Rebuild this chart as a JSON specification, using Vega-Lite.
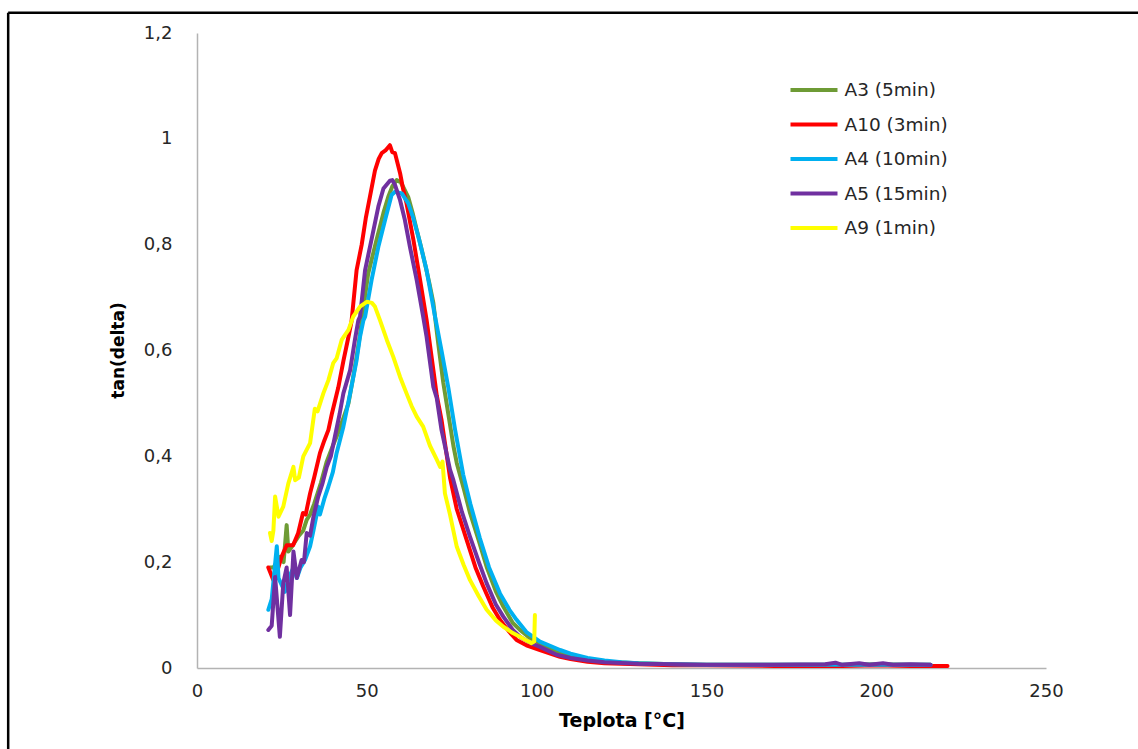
{
  "$schema": "https://vega.github.io/schema/vega-lite/v6.json",
  "autosize": {"type": "none"},
  "width": 849,
  "height": 635,
  "padding": {"left": 197, "top": 33, "right": 92, "bottom": 81},
  "background": "white",
  "config": {
    "view": {"stroke": null},
    "axis": {"grid": false, "ticks": false, "tickSize": 0, "labelFlush": false, "labelOverlap": false, "domainColor": "#B3B3B3", "domainWidth": 1.5, "labelFont": "DejaVu Sans", "labelFontSize": 18, "labelColor": "#262626", "titleFont": "DejaVu Sans", "titleFontSize": 17, "titleFontWeight": "bold", "titleColor": "#000000"},
    "legend": {"labelFont": "DejaVu Sans", "labelFontSize": 18.5, "labelColor": "#262626"}
  },
  "datasets": {
    "curves": [
      {"s":"A3 (5min)","x":21.5,"y":0.19},{"s":"A3 (5min)","x":22.5,"y":0.19},{"s":"A3 (5min)","x":23.5,"y":0.2},{"s":"A3 (5min)","x":24.5,"y":0.21},{"s":"A3 (5min)","x":25.5,"y":0.2},{"s":"A3 (5min)","x":26.4,"y":0.27},{"s":"A3 (5min)","x":26.9,"y":0.22},{"s":"A3 (5min)","x":28,"y":0.23},{"s":"A3 (5min)","x":29,"y":0.24},{"s":"A3 (5min)","x":30,"y":0.25},{"s":"A3 (5min)","x":31.3,"y":0.26},{"s":"A3 (5min)","x":32.3,"y":0.28},{"s":"A3 (5min)","x":33.3,"y":0.29},{"s":"A3 (5min)","x":34.5,"y":0.31},{"s":"A3 (5min)","x":35.5,"y":0.33},{"s":"A3 (5min)","x":36.5,"y":0.35},{"s":"A3 (5min)","x":38.2,"y":0.39},{"s":"A3 (5min)","x":40,"y":0.42},{"s":"A3 (5min)","x":41.6,"y":0.445},{"s":"A3 (5min)","x":43,"y":0.47},{"s":"A3 (5min)","x":44.6,"y":0.5},{"s":"A3 (5min)","x":46,"y":0.55},{"s":"A3 (5min)","x":47,"y":0.588},{"s":"A3 (5min)","x":48,"y":0.63},{"s":"A3 (5min)","x":49,"y":0.68},{"s":"A3 (5min)","x":50.4,"y":0.745},{"s":"A3 (5min)","x":52.9,"y":0.81},{"s":"A3 (5min)","x":54.9,"y":0.86},{"s":"A3 (5min)","x":56.3,"y":0.89},{"s":"A3 (5min)","x":57.5,"y":0.91},{"s":"A3 (5min)","x":58.8,"y":0.922},{"s":"A3 (5min)","x":60,"y":0.918},{"s":"A3 (5min)","x":60.8,"y":0.908},{"s":"A3 (5min)","x":62.2,"y":0.89},{"s":"A3 (5min)","x":63.5,"y":0.86},{"s":"A3 (5min)","x":64.7,"y":0.828},{"s":"A3 (5min)","x":66,"y":0.795},{"s":"A3 (5min)","x":67.1,"y":0.765},{"s":"A3 (5min)","x":68.5,"y":0.725},{"s":"A3 (5min)","x":69.6,"y":0.69},{"s":"A3 (5min)","x":71,"y":0.615},{"s":"A3 (5min)","x":72.5,"y":0.54},{"s":"A3 (5min)","x":73.5,"y":0.5},{"s":"A3 (5min)","x":75.5,"y":0.42},{"s":"A3 (5min)","x":76.5,"y":0.387},{"s":"A3 (5min)","x":78.5,"y":0.34},{"s":"A3 (5min)","x":80.4,"y":0.293},{"s":"A3 (5min)","x":83,"y":0.24},{"s":"A3 (5min)","x":85.3,"y":0.191},{"s":"A3 (5min)","x":88,"y":0.145},{"s":"A3 (5min)","x":90.2,"y":0.116},{"s":"A3 (5min)","x":93,"y":0.085},{"s":"A3 (5min)","x":95.1,"y":0.072},{"s":"A3 (5min)","x":98,"y":0.057},{"s":"A3 (5min)","x":101,"y":0.047},{"s":"A3 (5min)","x":105.9,"y":0.031},{"s":"A3 (5min)","x":110,"y":0.022},{"s":"A3 (5min)","x":115,"y":0.016},{"s":"A3 (5min)","x":120,"y":0.012},{"s":"A3 (5min)","x":130,"y":0.009},{"s":"A3 (5min)","x":140,"y":0.007},{"s":"A3 (5min)","x":150,"y":0.006},{"s":"A3 (5min)","x":170,"y":0.006},{"s":"A3 (5min)","x":190,"y":0.006},{"s":"A3 (5min)","x":200,"y":0.007},{"s":"A3 (5min)","x":210,"y":0.006},{"s":"A3 (5min)","x":216,"y":0.006},

      {"s":"A10 (3min)","x":21,"y":0.19},{"s":"A10 (3min)","x":22.5,"y":0.166},{"s":"A10 (3min)","x":23.5,"y":0.18},{"s":"A10 (3min)","x":24.9,"y":0.21},{"s":"A10 (3min)","x":26.4,"y":0.232},{"s":"A10 (3min)","x":28.3,"y":0.232},{"s":"A10 (3min)","x":29.8,"y":0.255},{"s":"A10 (3min)","x":31.2,"y":0.293},{"s":"A10 (3min)","x":32,"y":0.29},{"s":"A10 (3min)","x":33.3,"y":0.33},{"s":"A10 (3min)","x":34.5,"y":0.36},{"s":"A10 (3min)","x":36.2,"y":0.406},{"s":"A10 (3min)","x":37.5,"y":0.43},{"s":"A10 (3min)","x":38.7,"y":0.45},{"s":"A10 (3min)","x":39.7,"y":0.48},{"s":"A10 (3min)","x":41.6,"y":0.53},{"s":"A10 (3min)","x":43.1,"y":0.58},{"s":"A10 (3min)","x":44.6,"y":0.626},{"s":"A10 (3min)","x":45.5,"y":0.655},{"s":"A10 (3min)","x":47,"y":0.752},{"s":"A10 (3min)","x":48.5,"y":0.8},{"s":"A10 (3min)","x":49.7,"y":0.85},{"s":"A10 (3min)","x":50.9,"y":0.89},{"s":"A10 (3min)","x":52.4,"y":0.94},{"s":"A10 (3min)","x":53.5,"y":0.962},{"s":"A10 (3min)","x":54.4,"y":0.973},{"s":"A10 (3min)","x":55.5,"y":0.978},{"s":"A10 (3min)","x":56.8,"y":0.988},{"s":"A10 (3min)","x":57.5,"y":0.975},{"s":"A10 (3min)","x":58.3,"y":0.973},{"s":"A10 (3min)","x":59.8,"y":0.935},{"s":"A10 (3min)","x":60.7,"y":0.905},{"s":"A10 (3min)","x":61.7,"y":0.878},{"s":"A10 (3min)","x":63.7,"y":0.81},{"s":"A10 (3min)","x":65.7,"y":0.733},{"s":"A10 (3min)","x":67.6,"y":0.658},{"s":"A10 (3min)","x":69.6,"y":0.563},{"s":"A10 (3min)","x":70.6,"y":0.515},{"s":"A10 (3min)","x":72,"y":0.469},{"s":"A10 (3min)","x":74.5,"y":0.36},{"s":"A10 (3min)","x":76.5,"y":0.3},{"s":"A10 (3min)","x":79.4,"y":0.242},{"s":"A10 (3min)","x":82,"y":0.19},{"s":"A10 (3min)","x":84.3,"y":0.154},{"s":"A10 (3min)","x":87,"y":0.115},{"s":"A10 (3min)","x":89.2,"y":0.091},{"s":"A10 (3min)","x":92,"y":0.068},{"s":"A10 (3min)","x":94.1,"y":0.053},{"s":"A10 (3min)","x":97,"y":0.043},{"s":"A10 (3min)","x":101,"y":0.034},{"s":"A10 (3min)","x":106.9,"y":0.021},{"s":"A10 (3min)","x":110,"y":0.017},{"s":"A10 (3min)","x":115,"y":0.012},{"s":"A10 (3min)","x":120,"y":0.009},{"s":"A10 (3min)","x":130,"y":0.007},{"s":"A10 (3min)","x":140,"y":0.005},{"s":"A10 (3min)","x":150,"y":0.005},{"s":"A10 (3min)","x":170,"y":0.004},{"s":"A10 (3min)","x":190,"y":0.004},{"s":"A10 (3min)","x":200,"y":0.005},{"s":"A10 (3min)","x":210,"y":0.004},{"s":"A10 (3min)","x":221,"y":0.004},

      {"s":"A4 (10min)","x":21,"y":0.11},{"s":"A4 (10min)","x":22,"y":0.13},{"s":"A4 (10min)","x":23.5,"y":0.23},{"s":"A4 (10min)","x":24,"y":0.17},{"s":"A4 (10min)","x":25.9,"y":0.144},{"s":"A4 (10min)","x":27,"y":0.17},{"s":"A4 (10min)","x":28.4,"y":0.19},{"s":"A4 (10min)","x":29.4,"y":0.17},{"s":"A4 (10min)","x":30.5,"y":0.19},{"s":"A4 (10min)","x":31.8,"y":0.204},{"s":"A4 (10min)","x":33.3,"y":0.23},{"s":"A4 (10min)","x":34.3,"y":0.26},{"s":"A4 (10min)","x":35.7,"y":0.305},{"s":"A4 (10min)","x":36.2,"y":0.29},{"s":"A4 (10min)","x":37.5,"y":0.32},{"s":"A4 (10min)","x":38.7,"y":0.343},{"s":"A4 (10min)","x":40,"y":0.37},{"s":"A4 (10min)","x":41.1,"y":0.406},{"s":"A4 (10min)","x":43.1,"y":0.456},{"s":"A4 (10min)","x":45.1,"y":0.519},{"s":"A4 (10min)","x":47,"y":0.582},{"s":"A4 (10min)","x":48,"y":0.626},{"s":"A4 (10min)","x":49,"y":0.657},{"s":"A4 (10min)","x":49.5,"y":0.664},{"s":"A4 (10min)","x":51.4,"y":0.733},{"s":"A4 (10min)","x":53.4,"y":0.796},{"s":"A4 (10min)","x":55.4,"y":0.847},{"s":"A4 (10min)","x":57.3,"y":0.894},{"s":"A4 (10min)","x":58.3,"y":0.9},{"s":"A4 (10min)","x":60.3,"y":0.897},{"s":"A4 (10min)","x":62.2,"y":0.878},{"s":"A4 (10min)","x":63.7,"y":0.85},{"s":"A4 (10min)","x":65.2,"y":0.815},{"s":"A4 (10min)","x":67.6,"y":0.752},{"s":"A4 (10min)","x":70.1,"y":0.664},{"s":"A4 (10min)","x":72,"y":0.6},{"s":"A4 (10min)","x":74,"y":0.53},{"s":"A4 (10min)","x":76,"y":0.45},{"s":"A4 (10min)","x":78.4,"y":0.365},{"s":"A4 (10min)","x":80.5,"y":0.31},{"s":"A4 (10min)","x":83.3,"y":0.245},{"s":"A4 (10min)","x":86,"y":0.19},{"s":"A4 (10min)","x":89.2,"y":0.141},{"s":"A4 (10min)","x":92,"y":0.11},{"s":"A4 (10min)","x":94.1,"y":0.091},{"s":"A4 (10min)","x":97,"y":0.068},{"s":"A4 (10min)","x":101,"y":0.05},{"s":"A4 (10min)","x":106.9,"y":0.034},{"s":"A4 (10min)","x":110,"y":0.027},{"s":"A4 (10min)","x":115,"y":0.019},{"s":"A4 (10min)","x":120,"y":0.014},{"s":"A4 (10min)","x":125,"y":0.011},{"s":"A4 (10min)","x":130,"y":0.009},{"s":"A4 (10min)","x":140,"y":0.007},{"s":"A4 (10min)","x":150,"y":0.006},{"s":"A4 (10min)","x":170,"y":0.006},{"s":"A4 (10min)","x":190,"y":0.006},{"s":"A4 (10min)","x":205,"y":0.006},{"s":"A4 (10min)","x":216,"y":0.006},

      {"s":"A5 (15min)","x":21,"y":0.072},{"s":"A5 (15min)","x":22,"y":0.08},{"s":"A5 (15min)","x":23,"y":0.172},{"s":"A5 (15min)","x":24.4,"y":0.059},{"s":"A5 (15min)","x":25.4,"y":0.16},{"s":"A5 (15min)","x":26.4,"y":0.19},{"s":"A5 (15min)","x":27.4,"y":0.1},{"s":"A5 (15min)","x":28.4,"y":0.22},{"s":"A5 (15min)","x":29.4,"y":0.17},{"s":"A5 (15min)","x":30.8,"y":0.204},{"s":"A5 (15min)","x":31.5,"y":0.2},{"s":"A5 (15min)","x":32.3,"y":0.255},{"s":"A5 (15min)","x":33.3,"y":0.25},{"s":"A5 (15min)","x":34.3,"y":0.286},{"s":"A5 (15min)","x":35.7,"y":0.324},{"s":"A5 (15min)","x":37,"y":0.35},{"s":"A5 (15min)","x":38.2,"y":0.38},{"s":"A5 (15min)","x":39.4,"y":0.4},{"s":"A5 (15min)","x":40.6,"y":0.437},{"s":"A5 (15min)","x":42,"y":0.48},{"s":"A5 (15min)","x":43.1,"y":0.519},{"s":"A5 (15min)","x":45.1,"y":0.563},{"s":"A5 (15min)","x":46.5,"y":0.62},{"s":"A5 (15min)","x":47.5,"y":0.657},{"s":"A5 (15min)","x":48,"y":0.664},{"s":"A5 (15min)","x":49.5,"y":0.752},{"s":"A5 (15min)","x":51.4,"y":0.81},{"s":"A5 (15min)","x":53.4,"y":0.872},{"s":"A5 (15min)","x":54.9,"y":0.906},{"s":"A5 (15min)","x":56.8,"y":0.921},{"s":"A5 (15min)","x":57.5,"y":0.922},{"s":"A5 (15min)","x":58.3,"y":0.913},{"s":"A5 (15min)","x":59.8,"y":0.884},{"s":"A5 (15min)","x":61.2,"y":0.847},{"s":"A5 (15min)","x":62.7,"y":0.796},{"s":"A5 (15min)","x":64.7,"y":0.733},{"s":"A5 (15min)","x":66.6,"y":0.664},{"s":"A5 (15min)","x":67.6,"y":0.626},{"s":"A5 (15min)","x":69.6,"y":0.531},{"s":"A5 (15min)","x":70.6,"y":0.51},{"s":"A5 (15min)","x":72,"y":0.45},{"s":"A5 (15min)","x":74.5,"y":0.375},{"s":"A5 (15min)","x":75.5,"y":0.355},{"s":"A5 (15min)","x":78,"y":0.295},{"s":"A5 (15min)","x":80.4,"y":0.248},{"s":"A5 (15min)","x":83,"y":0.2},{"s":"A5 (15min)","x":85.3,"y":0.16},{"s":"A5 (15min)","x":88,"y":0.12},{"s":"A5 (15min)","x":90.2,"y":0.097},{"s":"A5 (15min)","x":93,"y":0.072},{"s":"A5 (15min)","x":95.1,"y":0.059},{"s":"A5 (15min)","x":98,"y":0.048},{"s":"A5 (15min)","x":101,"y":0.04},{"s":"A5 (15min)","x":105.9,"y":0.025},{"s":"A5 (15min)","x":110,"y":0.019},{"s":"A5 (15min)","x":115,"y":0.014},{"s":"A5 (15min)","x":120,"y":0.011},{"s":"A5 (15min)","x":130,"y":0.008},{"s":"A5 (15min)","x":140,"y":0.007},{"s":"A5 (15min)","x":150,"y":0.006},{"s":"A5 (15min)","x":170,"y":0.006},{"s":"A5 (15min)","x":185,"y":0.007},{"s":"A5 (15min)","x":188,"y":0.01},{"s":"A5 (15min)","x":190,"y":0.006},{"s":"A5 (15min)","x":195,"y":0.009},{"s":"A5 (15min)","x":198,"y":0.006},{"s":"A5 (15min)","x":202,"y":0.009},{"s":"A5 (15min)","x":205,"y":0.006},{"s":"A5 (15min)","x":210,"y":0.007},{"s":"A5 (15min)","x":216,"y":0.006},

      {"s":"A9 (1min)","x":21.5,"y":0.255},{"s":"A9 (1min)","x":22,"y":0.24},{"s":"A9 (1min)","x":22.5,"y":0.26},{"s":"A9 (1min)","x":23,"y":0.324},{"s":"A9 (1min)","x":23.5,"y":0.305},{"s":"A9 (1min)","x":24,"y":0.286},{"s":"A9 (1min)","x":25.4,"y":0.305},{"s":"A9 (1min)","x":26.9,"y":0.349},{"s":"A9 (1min)","x":28.4,"y":0.38},{"s":"A9 (1min)","x":28.9,"y":0.355},{"s":"A9 (1min)","x":30,"y":0.36},{"s":"A9 (1min)","x":31.3,"y":0.4},{"s":"A9 (1min)","x":33.3,"y":0.425},{"s":"A9 (1min)","x":34.7,"y":0.49},{"s":"A9 (1min)","x":35.5,"y":0.485},{"s":"A9 (1min)","x":37.2,"y":0.519},{"s":"A9 (1min)","x":38.7,"y":0.544},{"s":"A9 (1min)","x":40.1,"y":0.576},{"s":"A9 (1min)","x":41.1,"y":0.585},{"s":"A9 (1min)","x":42.6,"y":0.62},{"s":"A9 (1min)","x":44.6,"y":0.639},{"s":"A9 (1min)","x":46,"y":0.664},{"s":"A9 (1min)","x":48,"y":0.683},{"s":"A9 (1min)","x":50,"y":0.692},{"s":"A9 (1min)","x":51.5,"y":0.69},{"s":"A9 (1min)","x":52.4,"y":0.683},{"s":"A9 (1min)","x":53.9,"y":0.657},{"s":"A9 (1min)","x":55.9,"y":0.62},{"s":"A9 (1min)","x":57.8,"y":0.588},{"s":"A9 (1min)","x":59.8,"y":0.55},{"s":"A9 (1min)","x":61.7,"y":0.519},{"s":"A9 (1min)","x":63.2,"y":0.495},{"s":"A9 (1min)","x":64.7,"y":0.475},{"s":"A9 (1min)","x":66.6,"y":0.456},{"s":"A9 (1min)","x":68.6,"y":0.42},{"s":"A9 (1min)","x":70.5,"y":0.395},{"s":"A9 (1min)","x":71.6,"y":0.38},{"s":"A9 (1min)","x":72.3,"y":0.39},{"s":"A9 (1min)","x":73,"y":0.33},{"s":"A9 (1min)","x":74.5,"y":0.29},{"s":"A9 (1min)","x":76.5,"y":0.229},{"s":"A9 (1min)","x":78.5,"y":0.195},{"s":"A9 (1min)","x":80.4,"y":0.166},{"s":"A9 (1min)","x":83,"y":0.135},{"s":"A9 (1min)","x":85.3,"y":0.11},{"s":"A9 (1min)","x":88,"y":0.09},{"s":"A9 (1min)","x":90.2,"y":0.078},{"s":"A9 (1min)","x":93,"y":0.066},{"s":"A9 (1min)","x":95.1,"y":0.059},{"s":"A9 (1min)","x":97,"y":0.052},{"s":"A9 (1min)","x":98.5,"y":0.047},{"s":"A9 (1min)","x":99.3,"y":0.05},{"s":"A9 (1min)","x":99.5,"y":0.1}
    ]
  },
  "layer": [
    {
      "data": {"name": "curves"},
      "mark": {"type": "line", "strokeWidth": 4, "strokeJoin": "round", "strokeCap": "round"},
      "encoding": {
        "x": {"field": "x", "type": "quantitative",
              "scale": {"domain": [0, 250], "nice": false, "zero": false},
              "axis": {"title": "Teplota [°C]", "titleFontSize": 19, "values": [0, 50, 100, 150, 200, 250], "labelPadding": 14, "titleBaseline": "middle", "titleY": 52}},
        "y": {"field": "y", "type": "quantitative",
              "scale": {"domain": [0, 1.2], "nice": false, "zero": false},
              "axis": {"title": "tan(delta)", "values": [0, 0.2, 0.4, 0.6, 0.8, 1, 1.2], "labelPadding": 25,
                       "labelExpr": "replace(format(datum.value, '~g'), '.', ',')",
                       "titleAngle": -90, "titleX": -79, "titleY": 317, "titleAlign": "center", "titleBaseline": "middle"}},
        "color": {"field": "s", "type": "nominal",
                  "scale": {"domain": ["A3 (5min)", "A10 (3min)", "A4 (10min)", "A5 (15min)", "A9 (1min)"],
                            "range": ["#6E9B35", "#FF0000", "#00B0F0", "#7030A0", "#FFFF00"]},
                  "legend": {"title": null, "orient": "none", "legendX": 603, "legendY": 43,
                             "symbolType": "M-2,0H2", "symbolSize": 552, "symbolStrokeWidth": 4,
                             "labelOffset": 16.5, "rowPadding": 10.5}},
        "order": {"field": "x", "type": "quantitative"}
      }
    },
    {
      "data": {"values": [{}]},
      "mark": {"type": "rule", "color": "#000000", "strokeWidth": 2.5},
      "encoding": {
        "x": {"datum": -55.6, "type": "quantitative"},
        "x2": {"datum": 300},
        "y": {"datum": 1.2385, "type": "quantitative"}
      }
    },
    {
      "data": {"values": [{}]},
      "mark": {"type": "rule", "color": "#000000", "strokeWidth": 2.5},
      "encoding": {
        "x": {"datum": -55.6, "type": "quantitative"},
        "y": {"datum": 1.2385, "type": "quantitative"},
        "y2": {"datum": -0.3}
      }
    }
  ]
}
